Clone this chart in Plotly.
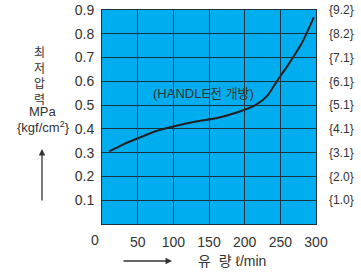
import plotly.graph_objects as go

flow = [10, 30, 50, 75, 100, 130, 160, 190, 215, 232, 245, 260, 280, 297]
pressure = [0.305, 0.335, 0.36, 0.39, 0.41, 0.43, 0.445, 0.47, 0.5, 0.54, 0.6, 0.665, 0.76, 0.87]

x_ticks = [50, 100, 150, 200, 250, 300]
y_ticks = [0.1, 0.2, 0.3, 0.4, 0.5, 0.6, 0.7, 0.8, 0.9]
y_kgf_labels = ["{1.0}", "{2.0}", "{3.1}", "{4.1}", "{5.1}", "{6.1}", "{7.1}", "{8.2}", "{9.2}"]
y_title = "최<br>저<br>압<br>력"

W, H = 361, 279
# plot area in window pixels: x 102..316, y 10..224 (body margin removed below)
PL, PR, PT, PB = 102, 316, 10, 224
L, R, T, B = PL, W - PR, PT, H - PB
PW, PH = PR - PL, PB - PT

def px(x):
    return (x - PL) / PW

def py(y):
    return (PB - y) / PH

FONT = "Liberation Sans, Arial, Noto Sans CJK KR, sans-serif"
KFONT = "Noto Sans CJK KR, sans-serif"
TXT = "#333333"
GRID = "#1d3340"

fig = go.Figure()
fig.add_trace(go.Scatter(x=flow, y=pressure, mode="lines",
                         line=dict(color="#231f20", width=2, shape="spline", smoothing=0.6),
                         hoverinfo="skip", showlegend=False))
fig.add_trace(go.Scatter(x=[0], y=[0], yaxis="y2", mode="markers",
                         marker=dict(opacity=0), showlegend=False, hoverinfo="skip"))

fig.update_layout(
    width=W, height=H,
    margin=dict(l=L, r=R, t=T, b=B, pad=0, autoexpand=False),
    paper_bgcolor="white",
    plot_bgcolor="#00AEEF",
    font=dict(family=FONT, color=TXT, size=14),
    xaxis=dict(range=[0, 300], tickvals=x_ticks, showgrid=True, gridcolor=GRID, gridwidth=1,
               showline=True, linecolor=GRID, linewidth=1, mirror=True, ticks="",
               zeroline=False, tickfont=dict(size=14, color=TXT), ticklabelstandoff=5,
               automargin=False, ticklabeloverflow="allow"),
    yaxis=dict(range=[0, 0.9], tickvals=y_ticks, tickformat=".1f", showgrid=True, gridcolor=GRID,
               gridwidth=1, showline=True, linecolor=GRID, linewidth=1, mirror=True, ticks="",
               zeroline=False, tickfont=dict(size=14, color=TXT), ticklabelstandoff=4,
               automargin=False, ticklabeloverflow="allow"),
    yaxis2=dict(range=[0, 0.9], overlaying="y", side="right", tickvals=y_ticks,
                ticktext=y_kgf_labels, showgrid=False, zeroline=False, showline=False,
                ticks="", tickfont=dict(size=12, color=TXT), ticklabelstandoff=12,
                automargin=False, ticklabeloverflow="allow"),
)

def label(x, y, text, size=13, family=FONT):
    return dict(x=px(x), y=py(y), xref="paper", yref="paper", text=text, showarrow=False,
                xanchor="center", yanchor="middle", font=dict(size=size, color=TXT, family=family))

ann = [label(95, 240, "0", 14)]
ann.append(label(39, 75, y_title, 12, KFONT))
ann.append(label(43, 111, "MPa", 13))
ann.append(label(43, 127, "{kgf/cm<sup>2</sup>}", 13))
ann.append(dict(x=px(42), y=py(149), xref="paper", yref="paper", ax=0, ay=53, axref="pixel",
                ayref="pixel", text="", showarrow=True, arrowhead=2, arrowsize=1, arrowwidth=1.3,
                arrowcolor=TXT))
ann.append(dict(x=px(172), y=py(261), xref="paper", yref="paper", ax=-50, ay=0, axref="pixel",
                ayref="pixel", text="", showarrow=True, arrowhead=2, arrowsize=1, arrowwidth=1.3,
                arrowcolor=TXT))
ann.append(label(232, 261, "유  량 ℓ/min", 14, "Liberation Sans, Noto Sans CJK KR, sans-serif"))
ann.append(label(203, 93, "(HANDLE전 개방)", 13, "Liberation Sans, Noto Sans CJK KR, sans-serif"))
fig.update_layout(annotations=ann)

fig.write_html("out.html", config={"displayModeBar": False},
               post_script="document.body.style.margin='0px';")
